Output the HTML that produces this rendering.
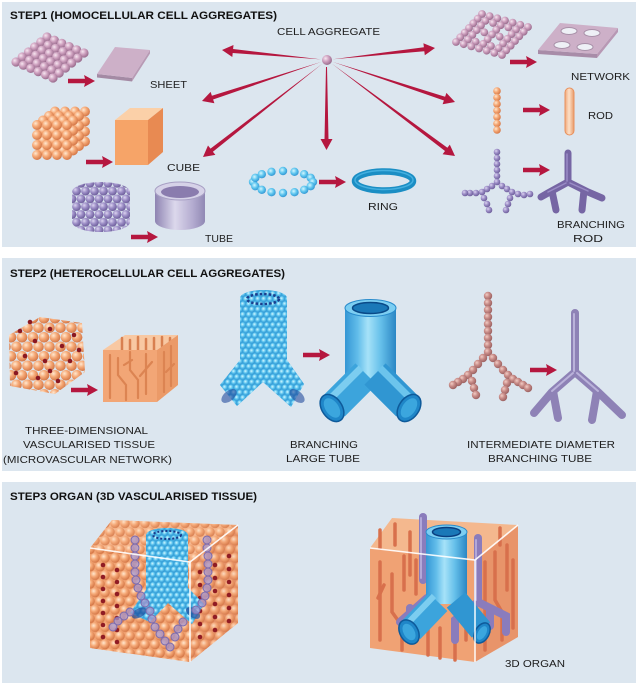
<!DOCTYPE html>
<html><head><meta charset="utf-8"><style>
html,body{margin:0;padding:0;background:#fff;}
svg{display:block;}
text{font-family:"Liberation Sans",Arial,sans-serif;fill:#1e1e1e;}
.t{font-weight:bold;font-size:11px;fill:#111;}
.l{font-size:10.5px;}
</style></head><body>
<svg width="640" height="686" viewBox="0 0 640 686" xmlns="http://www.w3.org/2000/svg" xmlns:xlink="http://www.w3.org/1999/xlink">
<defs>
<radialGradient id="gPk" cx=".36" cy=".34" r=".7"><stop offset="0" stop-color="#f6e6f0"/><stop offset=".45" stop-color="#cfa2c0"/><stop offset="1" stop-color="#96688a"/></radialGradient>
<radialGradient id="gOr" cx=".36" cy=".34" r=".7"><stop offset="0" stop-color="#ffe8d0"/><stop offset=".45" stop-color="#f6aa78"/><stop offset="1" stop-color="#d27444"/></radialGradient>
<radialGradient id="gPu" cx=".36" cy=".34" r=".7"><stop offset="0" stop-color="#dcd4f0"/><stop offset=".45" stop-color="#9e90c8"/><stop offset="1" stop-color="#6a5a98"/></radialGradient>
<radialGradient id="gBl" cx=".4" cy=".38" r=".7"><stop offset="0" stop-color="#d4f7ff"/><stop offset=".5" stop-color="#5cc4ee"/><stop offset="1" stop-color="#2a8ccc"/></radialGradient>
<radialGradient id="gBr" cx=".36" cy=".34" r=".7"><stop offset="0" stop-color="#f2ccc4"/><stop offset=".45" stop-color="#c88c88"/><stop offset="1" stop-color="#985e5e"/></radialGradient>
<linearGradient id="gCol" x1="0" y1="0" x2="1" y2="0"><stop offset="0" stop-color="#3496d4"/><stop offset=".25" stop-color="#62bdea"/><stop offset=".45" stop-color="#a6e2f8"/><stop offset=".7" stop-color="#66c0ea"/><stop offset="1" stop-color="#2a86c4"/></linearGradient>
<linearGradient id="gTube" x1="0" y1="0" x2="1" y2="0"><stop offset="0" stop-color="#8e84b2"/><stop offset=".4" stop-color="#dcd8ec"/><stop offset=".75" stop-color="#b4acd0"/><stop offset="1" stop-color="#9088b4"/></linearGradient>
<linearGradient id="gRod" x1="0" y1="0" x2="1" y2="0"><stop offset="0" stop-color="#f0a878"/><stop offset=".45" stop-color="#fde0c8"/><stop offset="1" stop-color="#e89a68"/></linearGradient>

<pattern id="pOrSq" width="10" height="10" patternUnits="userSpaceOnUse"><circle cx="5" cy="5" r="4.95" fill="url(#gOr)"/></pattern>
<pattern id="pPuHex" width="9" height="15.6" patternUnits="userSpaceOnUse">
<circle cx="0" cy="-3.9" r="4.4" fill="url(#gPu)"/><circle cx="9" cy="-3.9" r="4.4" fill="url(#gPu)"/><circle cx="4.5" cy="3.9" r="4.4" fill="url(#gPu)"/><circle cx="0" cy="11.7" r="4.4" fill="url(#gPu)"/><circle cx="9" cy="11.7" r="4.4" fill="url(#gPu)"/><circle cx="4.5" cy="19.5" r="4.4" fill="url(#gPu)"/></pattern>
<pattern id="pOrHex" width="11" height="19" patternUnits="userSpaceOnUse">
<circle cx="0" cy="-4.75" r="5.3" fill="url(#gOr)"/><circle cx="11" cy="-4.75" r="5.3" fill="url(#gOr)"/><circle cx="5.5" cy="4.75" r="5.3" fill="url(#gOr)"/><circle cx="0" cy="14.25" r="5.3" fill="url(#gOr)"/><circle cx="11" cy="14.25" r="5.3" fill="url(#gOr)"/><circle cx="5.5" cy="23.75" r="5.3" fill="url(#gOr)"/></pattern>
<pattern id="pBlHex" width="6" height="10.4" patternUnits="userSpaceOnUse">
<circle cx="0" cy="-2.6" r="2.8" fill="url(#gBl)"/><circle cx="6" cy="-2.6" r="2.8" fill="url(#gBl)"/><circle cx="3" cy="2.6" r="2.8" fill="url(#gBl)"/><circle cx="0" cy="7.8" r="2.8" fill="url(#gBl)"/><circle cx="6" cy="7.8" r="2.8" fill="url(#gBl)"/><circle cx="3" cy="13" r="2.8" fill="url(#gBl)"/></pattern>
<pattern id="pOr8" width="10" height="17.3" patternUnits="userSpaceOnUse">
<circle cx="0" cy="-4.33" r="4.8" fill="url(#gOr)"/><circle cx="10" cy="-4.33" r="4.8" fill="url(#gOr)"/><circle cx="5" cy="4.33" r="4.8" fill="url(#gOr)"/><circle cx="0" cy="12.98" r="4.8" fill="url(#gOr)"/><circle cx="10" cy="12.98" r="4.8" fill="url(#gOr)"/><circle cx="5" cy="21.63" r="4.8" fill="url(#gOr)"/></pattern>

<g id="sr"><circle cx="0" cy="0" r="4.6" fill="url(#gPk)"/><circle cx="7.4" cy="3.2" r="4.6" fill="url(#gPk)"/><circle cx="14.8" cy="6.4" r="4.6" fill="url(#gPk)"/><circle cx="22.2" cy="9.6" r="4.6" fill="url(#gPk)"/><circle cx="29.6" cy="12.8" r="4.6" fill="url(#gPk)"/><circle cx="37" cy="16" r="4.6" fill="url(#gPk)"/></g>
<g id="nrF"><circle cx="0" cy="0" r="3.9" fill="url(#gPk)"/><circle cx="7.67" cy="2.17" r="3.9" fill="url(#gPk)"/><circle cx="15.33" cy="4.33" r="3.9" fill="url(#gPk)"/><circle cx="23" cy="6.5" r="3.9" fill="url(#gPk)"/><circle cx="30.67" cy="8.67" r="3.9" fill="url(#gPk)"/><circle cx="38.33" cy="10.83" r="3.9" fill="url(#gPk)"/><circle cx="46" cy="13" r="3.9" fill="url(#gPk)"/></g>
<g id="nrP"><circle cx="0" cy="0" r="3.9" fill="url(#gPk)"/><circle cx="7.67" cy="2.17" r="3.9" fill="url(#gPk)"/><circle cx="23" cy="6.5" r="3.9" fill="url(#gPk)"/><circle cx="38.33" cy="10.83" r="3.9" fill="url(#gPk)"/><circle cx="46" cy="13" r="3.9" fill="url(#gPk)"/></g>
<polygon id="sa" points="-27,-2.2 -10,-2.2 -11,-6 0,0 -11,6 -10,2.2 -27,2.2" fill="#b5173f"/>
</defs>

<!-- panels -->
<rect x="2" y="2" width="634" height="245" fill="#dce6ef"/>
<rect x="2" y="258" width="634" height="213" fill="#dce6ef"/>
<rect x="2" y="482" width="634" height="201" fill="#dce6ef"/>

<!-- ================= STEP 1 ================= -->
<text x="10" y="19" class="t" textLength="267" lengthAdjust="spacingAndGlyphs">STEP1 (HOMOCELLULAR CELL AGGREGATES)</text>
<text x="277" y="35" class="l" textLength="103" lengthAdjust="spacingAndGlyphs">CELL AGGREGATE</text>
<circle cx="327" cy="60" r="5" fill="url(#gPk)"/>

<g fill="#b5173f">
<polygon points="321,59.4 233.1,49 233.5,45 222,50 232.3,57 232.7,53"/>
<polygon points="321.3,61.9 211.9,95.7 210.6,91.9 202,101 214.4,103.3 213.1,99.5"/>
<polygon points="322.3,63.7 210.5,148.6 208,145.5 203,157 215.4,154.9 212.9,151.8"/>
<polygon points="326,67 327,67 328.5,139 332.5,139 326.5,150 320.5,139 324.5,139"/>
<polygon points="333,59.3 424.3,51.2 424.8,55.2 435,48 423.4,43.2 423.9,47.2"/>
<polygon points="332.7,61.9 443.9,100.5 442.6,104.3 455,102 446.4,92.9 445.1,96.7"/>
<polygon points="331.8,63.6 445,151 442.6,154.2 455,156 449.8,144.6 447.4,147.8"/>
</g>

<!-- pink ball sheet -->
<use href="#sr" x="47" y="37"/><use href="#sr" x="40.8" y="42"/><use href="#sr" x="34.6" y="47"/><use href="#sr" x="28.4" y="52"/><use href="#sr" x="22.2" y="57"/><use href="#sr" x="16" y="62"/>
<use href="#sa" x="95" y="81"/>
<!-- sheet -->
<polygon points="97,74 132,78 132,81.5 97,77.5" fill="#a48aa4"/>
<polygon points="132,78 150,50 150,53.5 132,81.5" fill="#b89ab4"/>
<polygon points="97,74 115,47 150,50 132,78" fill="#cdb0c8"/>
<text x="150" y="88" class="l" textLength="37" lengthAdjust="spacingAndGlyphs">SHEET</text>

<!-- orange ball cube -->
<g transform="translate(50,106.5)"><rect width="40" height="40" fill="url(#pOrSq)"/></g>
<g transform="translate(44,111)"><rect width="40" height="40" fill="url(#pOrSq)"/></g>
<g transform="translate(38,115.5)"><rect width="40" height="40" fill="url(#pOrSq)"/></g>
<g transform="translate(32,120)"><rect width="40" height="40" fill="url(#pOrSq)"/></g>
<use href="#sa" x="113" y="162"/>
<!-- solid cube -->
<polygon points="115,120 130,108 163,108 148,120" fill="#fbd0a8"/>
<polygon points="148,120 163,108 163,152 148,165" fill="#e88a52"/>
<rect x="115" y="120" width="33" height="45" fill="#f6a468"/>
<text x="167" y="171" class="l" textLength="33" lengthAdjust="spacingAndGlyphs">CUBE</text>

<!-- purple ball cylinder -->
<path d="M72,192 A29,10 0 0 1 130,192 L130,222 A29,10 0 0 1 72,222 Z" fill="url(#pPuHex)"/>
<use href="#sa" x="158" y="237"/>
<!-- tube -->
<path d="M155,191 L155,221 A25,9 0 0 0 205,221 L205,191 Z" fill="url(#gTube)"/>
<ellipse cx="180" cy="191" rx="25" ry="9" fill="#d6d2e8" stroke="#a8a0c4" stroke-width="1"/>
<ellipse cx="180" cy="192" rx="19" ry="6" fill="#8a7cae"/>
<text x="205" y="242" class="l" textLength="28" lengthAdjust="spacingAndGlyphs">TUBE</text>

<!-- ring of balls -->
<g fill="url(#gBl)">
<circle cx="253" cy="182" r="4.2"/><circle cx="255.3" cy="177.8" r="4.2"/><circle cx="261.8" cy="174.2" r="4.2"/><circle cx="271.5" cy="171.8" r="4.2"/><circle cx="283" cy="171" r="4.2"/><circle cx="294.5" cy="171.8" r="4.2"/><circle cx="304.2" cy="174.2" r="4.2"/><circle cx="310.7" cy="177.8" r="4.2"/><circle cx="313" cy="182" r="4.2"/>
<circle cx="255.3" cy="186.2" r="4.2"/><circle cx="310.7" cy="186.2" r="4.2"/><circle cx="261.8" cy="189.8" r="4.2"/><circle cx="304.2" cy="189.8" r="4.2"/><circle cx="271.5" cy="192.2" r="4.2"/><circle cx="294.5" cy="192.2" r="4.2"/><circle cx="283" cy="193" r="4.2"/>
</g>
<use href="#sa" x="346" y="182"/>
<ellipse cx="384" cy="181" rx="29" ry="9.5" fill="none" stroke="#1b8ec4" stroke-width="6.5"/>
<ellipse cx="384" cy="180" rx="29" ry="9.5" fill="none" stroke="#44b0e0" stroke-width="1.5"/>
<text x="368" y="210" class="l" textLength="30" lengthAdjust="spacingAndGlyphs">RING</text>

<!-- network balls -->
<use href="#nrF" x="482" y="14"/><use href="#nrF" x="477.7" y="18.7"/><use href="#nrP" x="473.3" y="23.3"/><use href="#nrF" x="469" y="28"/><use href="#nrP" x="464.7" y="32.7"/><use href="#nrF" x="460.3" y="37.3"/><use href="#nrF" x="456" y="42"/>
<use href="#sa" x="537" y="62"/>
<!-- network sheet -->
<polygon points="538,50 597,54 597,58 538,54" fill="#a88ca8"/>
<polygon points="597,54 618,28 618,32 597,58" fill="#b898b4"/>
<polygon points="538,50 560,23 618,28 597,54" fill="#cdb0c8"/>
<g fill="#eef0f6" stroke="#a890a8" stroke-width="1">
<ellipse cx="569" cy="31" rx="8" ry="3.5"/><ellipse cx="592" cy="33" rx="8" ry="3.5"/><ellipse cx="562" cy="45" rx="8" ry="3.5"/><ellipse cx="585" cy="47" rx="8" ry="3.5"/>
</g>
<text x="571" y="80" class="l" textLength="59" lengthAdjust="spacingAndGlyphs">NETWORK</text>

<!-- rod balls -->
<g fill="url(#gOr)">
<circle cx="497" cy="91" r="3.8"/><circle cx="497" cy="97.5" r="3.8"/><circle cx="497" cy="104" r="3.8"/><circle cx="497" cy="110.5" r="3.8"/><circle cx="497" cy="117" r="3.8"/><circle cx="497" cy="123.5" r="3.8"/><circle cx="497" cy="130" r="3.8"/>
</g>
<use href="#sa" x="550" y="110"/>
<rect x="565" y="88" width="9" height="47" rx="4.5" fill="url(#gRod)" stroke="#e8905c" stroke-width="1"/>
<text x="588" y="119" class="l" textLength="25" lengthAdjust="spacingAndGlyphs">ROD</text>

<!-- branching balls -->
<g fill="url(#gPu)">
<circle cx="497" cy="152" r="3.3"/><circle cx="497" cy="158" r="3.3"/><circle cx="497" cy="164" r="3.3"/><circle cx="497" cy="170" r="3.3"/><circle cx="497" cy="176" r="3.3"/><circle cx="497" cy="182" r="3.3"/>
<circle cx="492" cy="186" r="3.3"/><circle cx="487" cy="189" r="3.3"/><circle cx="482" cy="192" r="3.3"/><circle cx="476" cy="193" r="3.3"/><circle cx="470" cy="193" r="3.3"/><circle cx="465" cy="193" r="3.3"/>
<circle cx="484" cy="198" r="3.3"/><circle cx="487" cy="204" r="3.3"/><circle cx="489" cy="210" r="3.3"/>
<circle cx="502" cy="186" r="3.3"/><circle cx="507" cy="189" r="3.3"/><circle cx="512" cy="192" r="3.3"/><circle cx="518" cy="194" r="3.3"/><circle cx="524" cy="195" r="3.3"/><circle cx="530" cy="194" r="3.3"/>
<circle cx="510" cy="198" r="3.3"/><circle cx="508" cy="204" r="3.3"/><circle cx="506" cy="210" r="3.3"/>
</g>
<use href="#sa" x="550" y="170"/>
<path d="M568,153 V182 M568,182 L548,193 L541,197 M568,182 L588,192 L602,198 M552,191 L556,210 M584,190 L582,210" fill="none" stroke="#7666a4" stroke-width="7" stroke-linecap="round" stroke-linejoin="round"/>
<path d="M567,154 V181 M566,183 L548,192 M570,183 L588,191" fill="none" stroke="#9a8cc6" stroke-width="1.5" stroke-linecap="round"/>
<text x="557" y="228" class="l" textLength="68" lengthAdjust="spacingAndGlyphs">BRANCHING</text>
<text x="573" y="242" class="l" textLength="30" lengthAdjust="spacingAndGlyphs">ROD</text>

<!-- ================= STEP 2 ================= -->
<text x="10" y="277" class="t" textLength="275" lengthAdjust="spacingAndGlyphs">STEP2 (HETEROCELLULAR CELL AGGREGATES)</text>

<path d="M9,335 L40,317 L82,323 L85,372 L55,394 L10,386 Z" fill="url(#pOrHex)"/>
<g fill="#8a1822">
<circle cx="20" cy="331" r="2.3"/><circle cx="35" cy="341" r="2.3"/><circle cx="50" cy="329" r="2.3"/><circle cx="62" cy="346" r="2.3"/><circle cx="25" cy="356" r="2.3"/><circle cx="45" cy="361" r="2.3"/><circle cx="70" cy="361" r="2.3"/><circle cx="16" cy="373" r="2.3"/><circle cx="38" cy="378" r="2.3"/><circle cx="58" cy="381" r="2.3"/><circle cx="74" cy="335" r="2.3"/><circle cx="30" cy="322" r="2.3"/><circle cx="79" cy="350" r="2.3"/><circle cx="50" cy="371" r="2.3"/>
</g>
<use href="#sa" x="98" y="390"/>
<!-- textured cube -->
<polygon points="103,350 125,335 178,335 157,350" fill="#f8c8a2"/>
<g stroke="#d88050" stroke-width="2.5" stroke-linecap="round">
<line x1="122" y1="338" x2="122" y2="352"/><line x1="130" y1="340" x2="130" y2="355"/><line x1="138" y1="337" x2="138" y2="352"/><line x1="146" y1="339" x2="146" y2="356"/><line x1="154" y1="338" x2="154" y2="350"/><line x1="162" y1="337" x2="162" y2="346"/><line x1="170" y1="338" x2="170" y2="344"/>
</g>
<polygon points="157,350 178,335 178,385 157,402" fill="#eb9a68"/>
<rect x="103" y="350" width="54" height="52" fill="#f2a676"/>
<g stroke="#dc8452" stroke-width="2.2" fill="none" stroke-linecap="round">
<path d="M110,355 V398"/><path d="M118,358 V375 L126,385 V400"/><path d="M130,352 V370 L138,380 V398"/><path d="M146,354 V394"/><path d="M152,362 L140,376"/><path d="M124,365 L132,360"/>
<path d="M164,352 V392"/><path d="M171,346 V386"/><path d="M166,372 L174,364"/>
</g>
<text x="25" y="434" class="l" textLength="123" lengthAdjust="spacingAndGlyphs">THREE-DIMENSIONAL</text>
<text x="23" y="448" class="l" textLength="132" lengthAdjust="spacingAndGlyphs">VASCULARISED TISSUE</text>
<text x="3" y="463" class="l" textLength="169" lengthAdjust="spacingAndGlyphs">(MICROVASCULAR NETWORK)</text>

<!-- ball Y tube -->
<path d="M240,298 A23.5,8 0 0 1 287,298 L287,360 L304,384 L291,407 L263,382 L237,406 L220,385 L240,360 Z" fill="#3aa6de"/>
<path d="M240,298 A23.5,8 0 0 1 287,298 L287,360 L304,384 L291,407 L263,382 L237,406 L220,385 L240,360 Z" fill="url(#pBlHex)"/>
<ellipse cx="263" cy="299" rx="16" ry="5" fill="none" stroke="#1a3e8e" stroke-width="2.5" stroke-dasharray="2.5 2"/>
<ellipse cx="229" cy="396" rx="9" ry="5" transform="rotate(-40 229 396)" fill="#244c9c" opacity=".6"/>
<ellipse cx="297" cy="396" rx="9" ry="5" transform="rotate(40 297 396)" fill="#244c9c" opacity=".6"/>
<use href="#sa" x="330" y="355"/>

<!-- big blue Y tube -->
<rect x="345" y="308" width="51" height="80" fill="url(#gCol)"/>
<line x1="366" y1="374" x2="334" y2="406" stroke="#3ca4dc" stroke-width="30"/>
<line x1="361" y1="368" x2="329" y2="400" stroke="#7ccdf0" stroke-width="7"/>
<line x1="375" y1="374" x2="407" y2="406" stroke="#3096d2" stroke-width="30"/>
<line x1="380" y1="368" x2="412" y2="400" stroke="#6cc4ec" stroke-width="7"/>
<ellipse cx="332" cy="408" rx="10" ry="15" transform="rotate(-35 332 408)" fill="#1f86c8" stroke="#0e5a9a" stroke-width="1.5"/>
<ellipse cx="332" cy="408" rx="6.5" ry="11" transform="rotate(-35 332 408)" fill="#3ba6de"/>
<ellipse cx="409" cy="408" rx="10" ry="15" transform="rotate(35 409 408)" fill="#1f86c8" stroke="#0e5a9a" stroke-width="1.5"/>
<ellipse cx="409" cy="408" rx="6.5" ry="11" transform="rotate(35 409 408)" fill="#3ba6de"/>
<ellipse cx="370.5" cy="308" rx="25.5" ry="8.5" fill="#7ccef2" stroke="#2a8ccc" stroke-width="1"/>
<ellipse cx="370.5" cy="308" rx="18" ry="5.5" fill="#1a78b8" stroke="#0a4a88" stroke-width="1.5"/>
<text x="290" y="448" class="l" textLength="68" lengthAdjust="spacingAndGlyphs">BRANCHING</text>
<text x="286" y="462" class="l" textLength="74" lengthAdjust="spacingAndGlyphs">LARGE TUBE</text>

<!-- intermediate branching balls -->
<g fill="url(#gBr)">
<circle cx="488" cy="296" r="4.2"/><circle cx="488" cy="303" r="4.2"/><circle cx="488" cy="310" r="4.2"/><circle cx="488" cy="317" r="4.2"/><circle cx="488" cy="324" r="4.2"/><circle cx="488" cy="331" r="4.2"/><circle cx="488" cy="338" r="4.2"/><circle cx="488" cy="345" r="4.2"/><circle cx="488" cy="352" r="4.2"/>
<circle cx="483" cy="358" r="4.2"/><circle cx="478" cy="364" r="4.2"/><circle cx="473" cy="370" r="4.2"/><circle cx="468" cy="375" r="4.2"/><circle cx="463" cy="379" r="4.2"/><circle cx="458" cy="382" r="4.2"/><circle cx="453" cy="385" r="4.2"/>
<circle cx="472" cy="381" r="4.2"/><circle cx="474" cy="388" r="4.2"/><circle cx="476" cy="395" r="4.2"/>
<circle cx="493" cy="358" r="4.2"/><circle cx="498" cy="364" r="4.2"/><circle cx="503" cy="370" r="4.2"/><circle cx="508" cy="375" r="4.2"/><circle cx="513" cy="379" r="4.2"/><circle cx="518" cy="382" r="4.2"/><circle cx="523" cy="385" r="4.2"/><circle cx="528" cy="388" r="4.2"/>
<circle cx="507" cy="383" r="4.2"/><circle cx="505" cy="390" r="4.2"/><circle cx="503" cy="397" r="4.2"/>
</g>
<use href="#sa" x="557" y="370"/>
<path d="M575,313 V372 M575,372 L552,392 L534,413 M575,372 L598,392 L622,415 M553,391 L558,418 M597,391 L592,420" fill="none" stroke="#8e82b6" stroke-width="8" stroke-linecap="round" stroke-linejoin="round"/>
<path d="M574,314 V371 M573,373 L552,391 M577,373 L598,391" fill="none" stroke="#bab2da" stroke-width="2" stroke-linecap="round"/>
<text x="467" y="448" class="l" textLength="148" lengthAdjust="spacingAndGlyphs">INTERMEDIATE DIAMETER</text>
<text x="488" y="462" class="l" textLength="104" lengthAdjust="spacingAndGlyphs">BRANCHING TUBE</text>

<!-- ================= STEP 3 ================= -->
<text x="10" y="500" class="t" textLength="247" lengthAdjust="spacingAndGlyphs">STEP3 ORGAN (3D VASCULARISED TISSUE)</text>

<!-- left cube -->
<polygon points="190,562 238,525 238,623 190,662" fill="#e49068"/>
<polygon points="190,562 238,525 238,623 190,662" fill="url(#pOr8)" opacity=".85"/>
<polygon points="90,548 112,520 238,525 190,562" fill="#f6b890"/>
<polygon points="90,548 112,520 238,525 190,562" fill="url(#pOr8)" opacity=".85"/>
<polygon points="90,548 190,562 190,662 90,648" fill="#f0a272"/>
<polygon points="90,548 190,562 190,662 90,648" fill="url(#pOr8)"/>
<g fill="#901c24">
<circle cx="103" cy="565" r="2.3"/><circle cx="103" cy="577" r="2.3"/><circle cx="103" cy="589" r="2.3"/><circle cx="103" cy="601" r="2.3"/><circle cx="103" cy="613" r="2.3"/><circle cx="103" cy="625" r="2.3"/><circle cx="103" cy="637" r="2.3"/>
<circle cx="117" cy="570" r="2.3"/><circle cx="117" cy="582" r="2.3"/><circle cx="117" cy="594" r="2.3"/><circle cx="117" cy="606" r="2.3"/><circle cx="117" cy="618" r="2.3"/><circle cx="117" cy="630" r="2.3"/><circle cx="117" cy="642" r="2.3"/>
<circle cx="200" cy="572" r="2.3"/><circle cx="200" cy="585" r="2.3"/><circle cx="200" cy="598" r="2.3"/><circle cx="200" cy="611" r="2.3"/><circle cx="200" cy="624" r="2.3"/><circle cx="200" cy="637" r="2.3"/>
<circle cx="215" cy="565" r="2.3"/><circle cx="215" cy="578" r="2.3"/><circle cx="215" cy="591" r="2.3"/><circle cx="215" cy="604" r="2.3"/><circle cx="215" cy="617" r="2.3"/><circle cx="215" cy="630" r="2.3"/>
<circle cx="229" cy="556" r="2.3"/><circle cx="229" cy="569" r="2.3"/><circle cx="229" cy="582" r="2.3"/><circle cx="229" cy="595" r="2.3"/><circle cx="229" cy="608" r="2.3"/><circle cx="229" cy="621" r="2.3"/>
</g>
<!-- blue ball tube inside -->
<path d="M146,535 A21,7 0 0 1 188,535 L188,588 L204,604 L192,624 L168,603 L150,622 L130,613 L146,590 Z" fill="#3aa6dc"/>
<path d="M146,535 A21,7 0 0 1 188,535 L188,588 L204,604 L192,624 L168,603 L150,622 L130,613 L146,590 Z" fill="url(#pBlHex)"/>
<ellipse cx="167" cy="535" rx="14" ry="4" fill="none" stroke="#1a3a8a" stroke-width="2" stroke-dasharray="2 2"/>
<ellipse cx="139" cy="613" rx="8" ry="4.5" transform="rotate(-30 139 613)" fill="#1c4c9c" opacity=".7"/>
<ellipse cx="193" cy="613" rx="8" ry="4.5" transform="rotate(35 193 613)" fill="#1c4c9c" opacity=".7"/>
<!-- purple ball vessels -->
<g fill="#a494cc" fill-opacity=".75" stroke="#7a6aae" stroke-width="1">
<circle cx="135" cy="540" r="4"/><circle cx="135" cy="548" r="4"/><circle cx="135" cy="556" r="4"/><circle cx="135" cy="564" r="4"/><circle cx="135" cy="572" r="4"/><circle cx="136" cy="580" r="4"/><circle cx="138" cy="588" r="4"/><circle cx="141" cy="596" r="4"/><circle cx="145" cy="603" r="4"/>
<circle cx="130" cy="612" r="4"/><circle cx="124" cy="616" r="4"/><circle cx="118" cy="621" r="4"/><circle cx="113" cy="627" r="4"/>
<circle cx="150" cy="611" r="4"/><circle cx="152" cy="619" r="4"/><circle cx="155" cy="627" r="4"/><circle cx="160" cy="634" r="4"/><circle cx="165" cy="641" r="4"/><circle cx="170" cy="647" r="4"/>
<circle cx="207" cy="540" r="4"/><circle cx="207" cy="548" r="4"/><circle cx="208" cy="556" r="4"/><circle cx="208" cy="564" r="4"/><circle cx="208" cy="572" r="4"/><circle cx="208" cy="580" r="4"/><circle cx="207" cy="588" r="4"/><circle cx="205" cy="596" r="4"/><circle cx="202" cy="603" r="4"/>
<circle cx="196" cy="610" r="4"/><circle cx="183" cy="622" r="4"/><circle cx="178" cy="629" r="4"/><circle cx="175" cy="637" r="4"/>
</g>
<g stroke="#fff" stroke-width="1.6" fill="none" stroke-opacity=".9">
<polyline points="90,548 190,562 238,525"/><line x1="190" y1="562" x2="190" y2="662"/>
</g>

<!-- right cube -->
<polygon points="475,560 518,525 518,637 475,662" fill="#e8946a"/>
<polygon points="370,548 392,518 518,525 475,560" fill="#f4b88e"/>
<polygon points="370,548 475,560 475,662 370,648" fill="#f0a274"/>
<g stroke="#d8704c" stroke-width="3.5" stroke-linecap="round" fill="none">
<path d="M380,530 V548"/><path d="M395,524 V545"/><path d="M410,532 V575"/><path d="M500,528 V545"/>
<path d="M380,562 V640"/><path d="M392,574 V612 L402,626 V650"/><path d="M404,556 V590"/><path d="M416,560 V594"/><path d="M428,625 V655"/><path d="M440,628 V658"/><path d="M455,632 V660"/><path d="M466,600 V640"/><path d="M384,585 L378,598"/>
<path d="M485,562 V650"/><path d="M495,552 V600 L502,612 V640"/><path d="M507,545 V590"/><path d="M513,560 V628"/>
</g>
<!-- purple vessels behind -->
<g stroke="#8a7cbc" stroke-width="8" stroke-linecap="round" fill="none">
<path d="M423,517 V580"/><path d="M478,538 V602"/>
<path d="M427,598 L400,622 M410,608 V626"/>
<path d="M478,602 L455,620 V640 M478,602 L506,616 V632 M490,608 V626"/>
</g>
<g stroke="#b2a8d8" stroke-width="2" stroke-linecap="round" fill="none">
<path d="M421,518 V578"/><path d="M476,540 V600"/>
</g>
<!-- blue tube -->
<rect x="426" y="532" width="41" height="72" fill="url(#gCol)"/>
<line x1="438" y1="602" x2="411" y2="630" stroke="#3ca4dc" stroke-width="26"/>
<line x1="434" y1="596" x2="407" y2="624" stroke="#7ccdf0" stroke-width="6"/>
<line x1="456" y1="600" x2="481" y2="630" stroke="#3096d2" stroke-width="24"/>
<ellipse cx="409" cy="632" rx="9" ry="13" transform="rotate(-30 409 632)" fill="#1f86c8" stroke="#0e5a9a" stroke-width="1.5"/>
<ellipse cx="409" cy="632" rx="5.5" ry="9" transform="rotate(-30 409 632)" fill="#3ba6de"/>
<ellipse cx="482" cy="633" rx="7" ry="11" transform="rotate(30 482 633)" fill="#1f86c8" stroke="#0e5a9a" stroke-width="1.5"/>
<ellipse cx="482" cy="633" rx="4" ry="7.5" transform="rotate(30 482 633)" fill="#3ba6de"/>
<ellipse cx="446.5" cy="532" rx="20.5" ry="7" fill="#7ccef2" stroke="#2a8ccc" stroke-width="1"/>
<ellipse cx="446.5" cy="532" rx="14" ry="4.5" fill="#1a78b8" stroke="#0a3e80" stroke-width="1.5"/>
<g stroke="#fff" stroke-width="1.6" fill="none" stroke-opacity=".9">
<polyline points="370,548 475,560 518,525"/><line x1="475" y1="560" x2="475" y2="662"/>
</g>
<text x="505" y="667" class="l" textLength="60" lengthAdjust="spacingAndGlyphs">3D ORGAN</text>
</svg>
</body></html>
